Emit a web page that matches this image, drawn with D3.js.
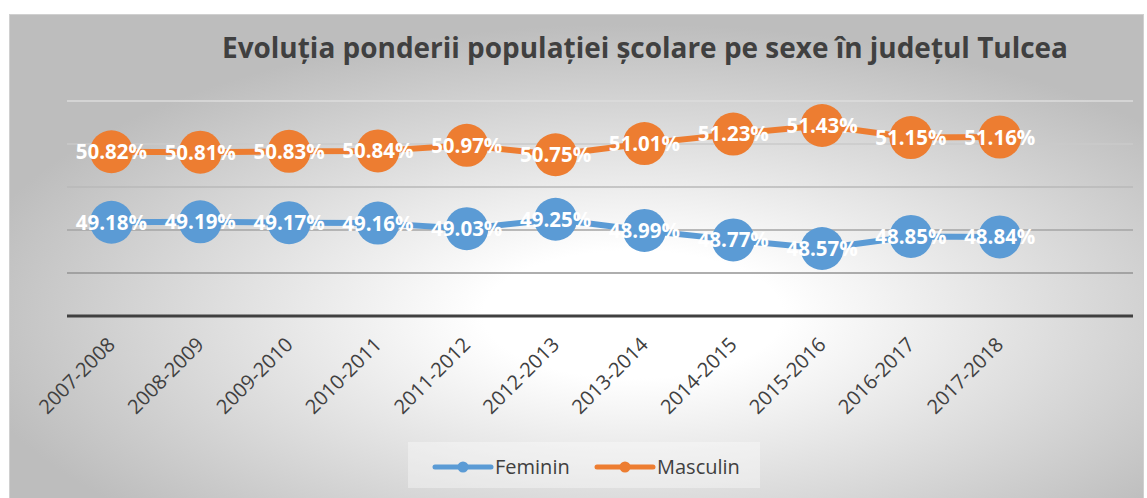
<!DOCTYPE html>
<html>
<head>
<meta charset="utf-8">
<script src="https://cdn.jsdelivr.net/npm/d3@7"></script>
<style>
  body { margin: 0; background: #fff; }
  text { font-family: "Open Sans", sans-serif; }
</style>
</head>
<body>
<div id="container"></div>
<script>
/* DATA */
const years = [
  "2007-2008", "2008-2009", "2009-2010", "2010-2011", "2011-2012", "2012-2013",
  "2013-2014", "2014-2015", "2015-2016", "2016-2017", "2017-2018",
];
const feminin = [49.18, 49.19, 49.17, 49.16, 49.03, 49.25, 48.99, 48.77, 48.57, 48.85, 48.84];
const masculin = [50.82, 50.81, 50.83, 50.84, 50.97, 50.75, 51.01, 51.23, 51.43, 51.15, 51.16];
const yTicks = [47, 48, 49, 50, 51, 52];

const seriesNames = ["Feminin", "Masculin"];
const seriesColors = ["#5B9BD5", "#ED7D31"];

/* CONSTANTS */
const width = 1147;
const height = 498;
const plot = { left: 67, right: 1133, top: 101, bottom: 316 };

const svg = d3
  .select("#container")
  .append("svg")
  .attr("width", width)
  .attr("height", height);

// BACKGROUND GRADIENT --------------------------------------
const grad = svg
  .append("defs")
  .append("radialGradient")
  .attr("id", "bg")
  .attr("cx", 0.55)
  .attr("cy", 0.62)
  .attr("r", 0.6);
grad.append("stop").attr("offset", 0).attr("stop-color", "#ffffff");
grad.append("stop").attr("offset", 0.22).attr("stop-color", "#ffffff");
grad.append("stop").attr("offset", 1).attr("stop-color", "#bdbdbd");

svg
  .append("rect")
  .attr("x", 9.5)
  .attr("y", 14.5)
  .attr("width", 1134)
  .attr("height", 484)
  .attr("fill", "url(#bg)")
  .attr("stroke", "#d0d0d0")
  .attr("stroke-width", 1);

/* SCALES */
const xScale = d3
  .scaleBand()
  .domain(d3.range(years.length + 1)) // one empty slot on the right, like the source
  .range([plot.left, plot.right]);
const xPos = (i) => xScale(i) + xScale.bandwidth() / 2;

const yScale = d3
  .scaleLinear()
  .domain([d3.min(yTicks), d3.max(yTicks)])
  .range([plot.bottom, plot.top]);

const gridColor = d3.scaleLinear().domain([48, 52]).range(["#939393", "#dcdcdc"]);

// GRIDLINES ------------------------------------------------
svg
  .selectAll(".grid")
  .data(yTicks.slice(1))
  .join("line")
  .attr("class", "grid")
  .attr("x1", plot.left)
  .attr("x2", plot.right)
  .attr("y1", (d) => yScale(d))
  .attr("y2", (d) => yScale(d))
  .attr("stroke", (d) => gridColor(d))
  .attr("stroke-width", 1.5);

// X AXIS ---------------------------------------------------
const xAxis = svg
  .append("g")
  .attr("transform", `translate(0,${plot.bottom})`)
  .call(
    d3.axisBottom(xScale)
      .tickSize(0)
      .tickFormat((i) => years[i] || "")
  );
xAxis.select(".domain").remove();
xAxis
  .selectAll("text")
  .attr("fill", "#404040")
  .style("font-size", "20px")
  .attr("text-anchor", "end")
  .attr("y", 0)
  .attr("dy", "0.35em")
  .attr("transform", "translate(0,25) rotate(-45)");

svg
  .append("line")
  .attr("x1", plot.left)
  .attr("x2", plot.right)
  .attr("y1", plot.bottom)
  .attr("y2", plot.bottom)
  .attr("stroke", "#404040")
  .attr("stroke-width", 3);

// LINES AND MARKERS ----------------------------------------
const allSeries = [feminin, masculin];
const line = d3
  .line()
  .x((d, i) => xPos(i))
  .y((d) => yScale(d));

allSeries.forEach((values, s) => {
  svg
    .append("path")
    .datum(values)
    .attr("d", line)
    .attr("fill", "none")
    .attr("stroke", seriesColors[s])
    .attr("stroke-width", 6)
    .attr("stroke-linejoin", "round");

  svg
    .selectAll(".dot-" + s)
    .data(values)
    .join("circle")
    .attr("class", "dot-" + s)
    .attr("cx", (d, i) => xPos(i))
    .attr("cy", (d) => yScale(d))
    .attr("r", 21.5)
    .attr("fill", seriesColors[s]);
});

// DATA LABELS ----------------------------------------------
allSeries.forEach((values, s) => {
  svg
    .selectAll(".label-" + s)
    .data(values)
    .join("text")
    .attr("class", "label-" + s)
    .attr("x", (d, i) => xPos(i))
    .attr("y", (d) => yScale(d))
    .attr("dy", "0.36em")
    .attr("text-anchor", "middle")
    .attr("fill", "#ffffff")
    .style("font-size", "20.5px")
    .style("font-weight", 700)
    .text((d) => d.toFixed(2) + "%");
});

// TITLE ----------------------------------------------------
svg
  .append("text")
  .attr("x", 222)
  .attr("y", 58)
  .attr("fill", "#404040")
  .attr("textLength", 846)
  .attr("lengthAdjust", "spacingAndGlyphs")
  .style("font-size", "28.5px")
  .style("font-weight", 700)
  .text("Evoluția ponderii populației școlare pe sexe în județul Tulcea");

// LEGEND ---------------------------------------------------
svg
  .append("rect")
  .attr("x", 408)
  .attr("y", 442)
  .attr("width", 352)
  .attr("height", 46)
  .attr("fill", "#ffffff")
  .attr("opacity", 0.35);

const legendX = [435, 597];
const legend = svg
  .selectAll(".legend")
  .data(seriesNames)
  .join("g")
  .attr("class", "legend")
  .attr("transform", (d, i) => `translate(${legendX[i]},467)`);

legend
  .append("line")
  .attr("x1", 0)
  .attr("x2", 56)
  .attr("stroke", (d, i) => seriesColors[i])
  .attr("stroke-width", 5)
  .attr("stroke-linecap", "round");

legend
  .append("circle")
  .attr("cx", 28)
  .attr("r", 5.5)
  .attr("fill", (d, i) => seriesColors[i]);

legend
  .append("text")
  .attr("x", 60)
  .attr("dy", "0.35em")
  .attr("fill", "#404040")
  .style("font-size", "20px")
  .text((d) => d);
</script>
</body>
</html>
